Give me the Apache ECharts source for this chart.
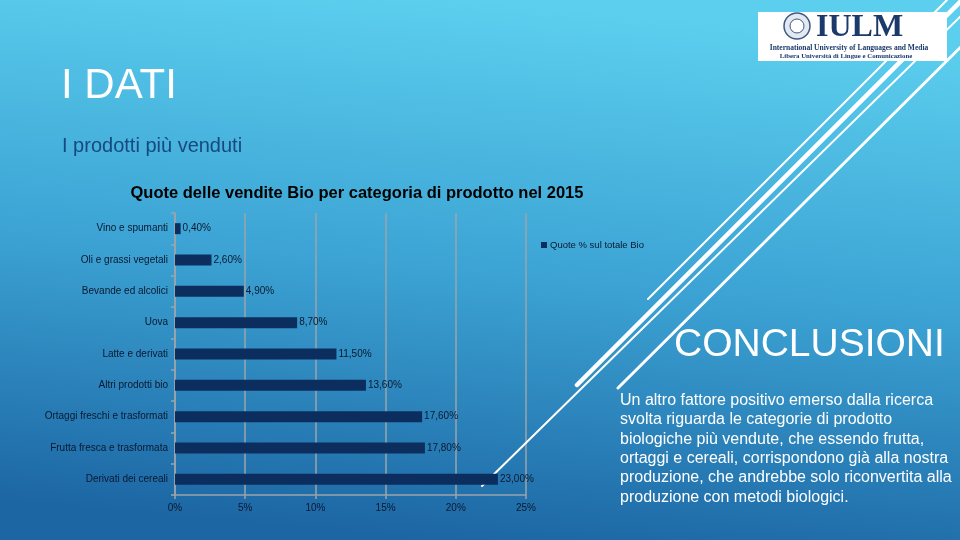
<!DOCTYPE html>
<html>
<head>
<meta charset="utf-8">
<script src="https://cdn.jsdelivr.net/npm/echarts@6/dist/echarts.min.js"></script>
<style>
html,body{margin:0;padding:0;width:960px;height:540px;overflow:hidden;}
#c{width:960px;height:540px;}
</style>
</head>
<body>
<div id="c"></div>
<script>
var categories = ['Vino e spumanti','Oli e grassi vegetali','Bevande ed alcolici','Uova','Latte e derivati','Altri prodotti bio','Ortaggi freschi e trasformati','Frutta fresca e trasformata','Derivati dei cereali'];
var shareValues = [0.4, 2.6, 4.9, 8.7, 11.5, 13.6, 17.6, 17.8, 23.0];
var seriesName = 'Quote % sul totale Bio';
var xTicks = [0, 5, 10, 15, 20, 25];

var paragraph = [
  'Un altro fattore positivo emerso dalla ricerca',
  'svolta riguarda le categorie di prodotto',
  'biologiche più vendute, che essendo frutta,',
  'ortaggi e cereali, corrispondono già alla nostra',
  'produzione, che andrebbe solo riconvertita alla',
  'produzione con metodi biologici.'
];

var chart = echarts.init(document.getElementById('c'));
var narrow = '"Liberation Sans Narrow", "Liberation Sans", Arial, sans-serif';
var sans = '"Liberation Sans", Arial, sans-serif';
var serif = '"Liberation Serif", "DejaVu Serif", serif';

function deco(x1, y1, x2, y2, w) {
  return { type: 'line', z: 1, shape: { x1: x1, y1: y1, x2: x2, y2: y2 },
           style: { stroke: '#ffffff', lineWidth: w, lineCap: 'round' }, silent: true };
}

var option = {
  animation: false,
  textStyle: { fontFamily: sans },
  title: [{
    text: 'Quote delle vendite Bio per categoria di prodotto nel 2015',
    left: 352, top: 180, textAlign: 'center',
    textStyle: { fontSize: 16.5, fontWeight: 'bold', color: '#000000', fontFamily: sans }
  }],
  legend: {
    data: [seriesName], left: 536, top: 235,
    icon: 'rect', itemWidth: 6, itemHeight: 6, itemGap: 4,
    textStyle: { fontSize: 9.5, color: '#0a1830', fontFamily: sans, padding: [0, 0, 0, -2] }
  },
  grid: { left: 175, right: 434, top: 213, height: 282, containLabel: false },
  xAxis: {
    type: 'value', min: 0, max: 25, interval: 5,
    axisLine: { show: true, lineStyle: { color: '#9ba4ab', width: 1.5 } },
    axisTick: { show: true, length: 4, lineStyle: { color: '#9ba4ab', width: 1.5 } },
    splitLine: { show: true, lineStyle: { color: '#9ba4ab', width: 1.5 } },
    axisLabel: { formatter: function (v) { return xTicks.indexOf(v) >= 0 ? v + '%' : ''; },
                 fontSize: 10, color: '#0a1830', margin: 8, fontFamily: sans }
  },
  yAxis: {
    type: 'category', data: categories, inverse: true,
    axisLine: { show: true, lineStyle: { color: '#9ba4ab', width: 1.5 } },
    axisTick: { show: true, length: 4, lineStyle: { color: '#9ba4ab', width: 1.5 } },
    axisLabel: { fontSize: 10, color: '#0a1830', margin: 7, fontFamily: narrow }
  },
  series: [{
    name: seriesName, type: 'bar', data: shareValues, barWidth: 11,
    itemStyle: { color: '#0c2e5e' },
    label: { show: true, position: 'right', distance: 2, fontSize: 10, color: '#0a1830', fontFamily: sans,
             formatter: function (p) { return p.value.toFixed(2).replace('.', ',') + '%'; } }
  }],
  graphic: [
    { type: 'rect', z: -100, silent: true, shape: { x: 0, y: 0, width: 960, height: 540 },
      style: { fill: new echarts.graphic.LinearGradient(0.5, 0, 0.45, 1, [
        { offset: 0, color: '#5ccfee' }, { offset: 0.5, color: '#3ca3d4' }, { offset: 1, color: '#1c66a3' }]) } },
    deco(947, 0, 648, 299, 2),
    deco(962, 0, 577, 385, 4.5),
    deco(962, 15, 482, 486, 2),
    deco(1008, 0, 618, 388, 3),
    { type: 'rect', z: 5, shape: { x: 758, y: 12, width: 189, height: 49 }, style: { fill: '#ffffff' } },
    { type: 'circle', z: 6, shape: { cx: 797, cy: 26, r: 13 }, style: { fill: '#e4e9f0', stroke: '#3c5a86', lineWidth: 1.5 } },
    { type: 'circle', z: 6, shape: { cx: 797, cy: 26, r: 7 }, style: { fill: '#ffffff', stroke: '#3c5a86', lineWidth: 1 } },
    { type: 'text', z: 6, style: { text: 'IULM', x: 816, y: 28, fill: '#1b3a6b', verticalAlign: 'middle', font: 'bold 32px ' + serif } },
    { type: 'text', z: 6, style: { text: 'International University of Languages and Media', x: 849, y: 48, fill: '#1b3a6b', align: 'center', verticalAlign: 'middle', font: 'bold 7.5px ' + serif } },
    { type: 'text', z: 6, style: { text: 'Libera Università di Lingue e Comunicazione', x: 846, y: 56.5, fill: '#1b3a6b', align: 'center', verticalAlign: 'middle', font: 'bold 6.8px ' + serif } },
    { type: 'text', z: 6, style: { text: 'I DATI', x: 61, y: 86, fill: '#ffffff', verticalAlign: 'middle', font: '42px ' + sans } },
    { type: 'text', z: 6, style: { text: 'I prodotti più venduti', x: 62, y: 146, fill: '#164a7e', verticalAlign: 'middle', font: '20px ' + sans } },
    { type: 'text', z: 6, style: { text: 'CONCLUSIONI', x: 674, y: 345, fill: '#ffffff', verticalAlign: 'middle', font: '39px ' + sans } },
    { type: 'text', z: 6, style: { text: paragraph.join('\n'), x: 620, y: 391, fill: '#ffffff', lineHeight: 19.3, font: '16px ' + sans } }
  ]
};
chart.setOption(option);
</script>
</body>
</html>
